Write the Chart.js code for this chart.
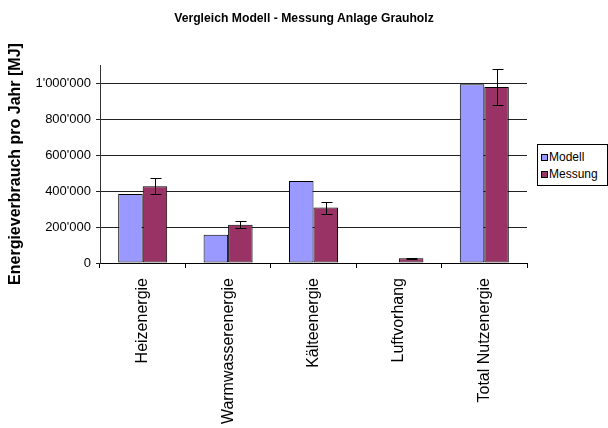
<!DOCTYPE html>
<html lang="de">
<head>
<meta charset="UTF-8">
<title>Vergleich Modell - Messung Anlage Grauholz</title>
<script src="https://cdn.jsdelivr.net/npm/chart.js@4/dist/chart.umd.min.js"></script>
<style>
  * { box-sizing: border-box; margin: 0; padding: 0; }
  body { background: #fff; font-family: "Liberation Sans", Arial, sans-serif; }
  #wrap { position: relative; width: 608px; height: 428px; }
  #title {
    position: absolute; left: 0; top: 11px; width: 608px; text-align: center;
    font-size: 12.2px; font-weight: bold; color: #000; line-height: 14px;
  }
  #legend {
    position: absolute; left: 537px; top: 144px; width: 71px; height: 42px;
    border: 1px solid #000; background: #fff; font-size: 12px; color: #000;
    padding: 4px 0 0 3px; line-height: 17px; white-space: nowrap;
  }
  #legend span.sw {
    display: inline-block; width: 7px; height: 7px; border: 1px solid #000;
    margin-right: 1px; vertical-align: 0px;
  }
</style>
</head>
<body>
<div id="wrap">
  <canvas id="chart" width="608" height="428"></canvas>
  <div id="title">Vergleich Modell - Messung Anlage Grauholz</div>
  <div id="legend"></div>
</div>
<script>
// Nutzenergie pro Jahr in MJ
const categories = ['Heizenergie', 'Warmwasserenergie', 'Kälteenergie', 'Luftvorhang', 'Total Nutzenergie'];
const modell     = [383000, 157000, 455000, null, 993000];
const messung    = [427000, 212000, 308000, 27000, 978000];
const messungErr = [45000, 20000, 33000, 2000, 98000];
const yTicks     = [0, 200000, 400000, 600000, 800000, 1000000];
const seriesNames  = ['Modell', 'Messung'];
const seriesColors = ['#9999ff', '#993366'];

const FONT = '"Liberation Sans", Arial, sans-serif';

// Fehlerbalken der Messung (± Unsicherheit)
const errorBars = {
  id: 'errorBars',
  afterDatasetsDraw(chart) {
    const meta = chart.getDatasetMeta(1);
    const y = chart.scales.y;
    const ctx = chart.ctx;
    ctx.save();
    ctx.strokeStyle = '#000';
    ctx.lineWidth = 1;
    meta.data.forEach((bar, i) => {
      const v = messung[i], e = messungErr[i];
      if (v == null || !e) return;
      const x = Math.round(bar.x) + 0.5;
      const top = Math.round(y.getPixelForValue(v + e)) + 0.5;
      const bot = Math.round(y.getPixelForValue(v - e)) + 0.5;
      ctx.beginPath();
      ctx.moveTo(x, top); ctx.lineTo(x, bot);
      ctx.moveTo(x - 5, top); ctx.lineTo(x + 6, top);
      ctx.moveTo(x - 5, bot); ctx.lineTo(x + 6, bot);
      ctx.stroke();
    });
    ctx.restore();
  }
};

new Chart(document.getElementById('chart'), {
  type: 'bar',
  data: {
    labels: categories,
    datasets: [
      { label: seriesNames[0], data: modell, backgroundColor: seriesColors[0] },
      { label: seriesNames[1], data: messung, backgroundColor: seriesColors[1] },
    ],
  },
  options: {
    responsive: false,
    animation: false,
    layout: { padding: { left: 0, right: 81, top: 65, bottom: 0 } },
    datasets: {
      bar: {
        borderColor: '#000', borderWidth: 1, borderSkipped: false,
        categoryPercentage: 0.574, barPercentage: 1,
      },
    },
    plugins: {
      legend: { display: false },
      tooltip: { enabled: false },
      title: { display: false },
    },
    scales: {
      x: {
        afterFit(scale) { scale.height = 165; },
        border: { color: '#000' },
        grid: { drawOnChartArea: false, color: '#000', tickLength: 5, offset: true },
        ticks: {
          color: '#000', minRotation: 90, maxRotation: 90, padding: 10,
          font: { family: FONT, size: 16 },
        },
      },
      y: {
        min: 0, max: 1100000,
        afterFit(scale) { scale.width = 100; },
        afterBuildTicks(scale) { scale.ticks = yTicks.map(value => ({ value })); },
        border: { color: '#333' },
        grid: { color: '#222', tickLength: 4 },
        ticks: {
          color: '#000', padding: 5,
          font: { family: FONT, size: 13 },
          callback: v => String(v).replace(/\B(?=(\d{3})+(?!\d))/g, "'"),
        },
        title: {
          display: true, text: 'Energieverbrauch pro Jahr [MJ]', color: '#000',
          font: { family: FONT, size: 16, weight: 'bold' },
          padding: { top: 6, bottom: 0 },
        },
      },
    },
  },
  plugins: [errorBars],
});

document.getElementById('legend').innerHTML = seriesNames
  .map((n, i) => `<div><span class="sw" style="background:${seriesColors[i]}"></span>${n}</div>`)
  .join('');
</script>
</body>
</html>
